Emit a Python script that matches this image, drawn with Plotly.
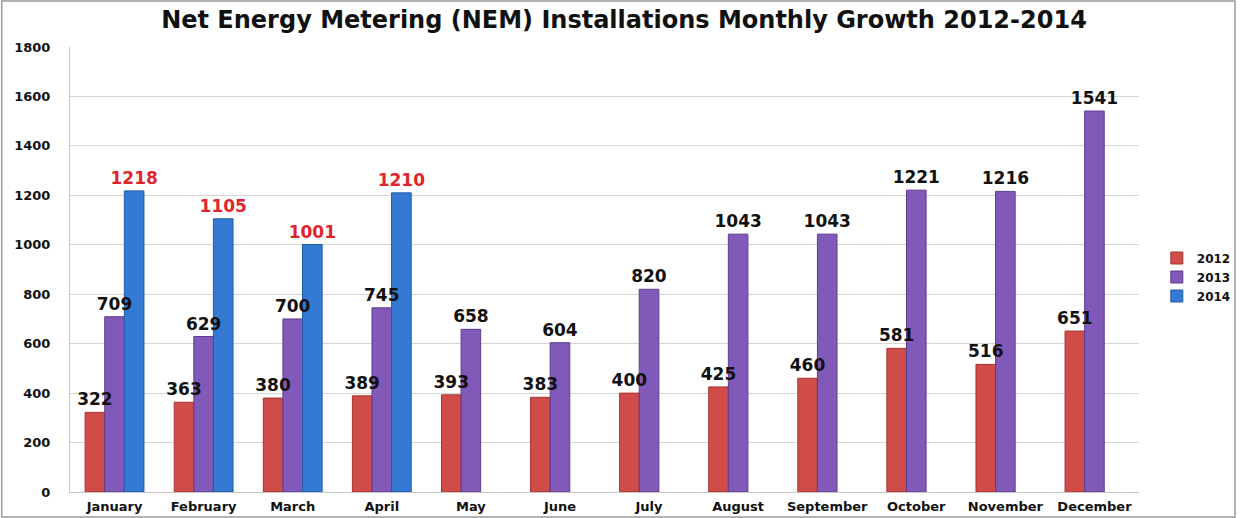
import plotly.graph_objects as go

months = ["January", "February", "March", "April", "May", "June", "July",
          "August", "September", "October", "November", "December"]
v2012 = [322, 363, 380, 389, 393, 383, 400, 425, 460, 581, 516, 651]
v2013 = [709, 629, 700, 745, 658, 604, 820, 1043, 1043, 1221, 1216, 1541]
v2014 = [1218, 1105, 1001, 1210, None, None, None, None, None, None, None, None]
y_ticks = [0, 200, 400, 600, 800, 1000, 1200, 1400, 1600, 1800]

W, H = 1248, 518
L, R, T, B = 70, 98, 47, 26
PW, PH = W - L - R, H - T - B

series = [
    ("2012", v2012, "#CF4C48", "#A8322F", "#111111", "g1"),
    ("2013", v2013, "#8159B8", "#5E3C8E", "#111111", "g2"),
    ("2014", v2014, "#3479D2", "#1F5AA8", "#E0242C", "g3"),
]

fig = go.Figure()
# visible bars
for name, vals, fill, edge, tcol, grp in series:
    fig.add_trace(go.Bar(name=name, x=months, y=vals, offsetgroup=grp,
                         marker=dict(color=fill, line=dict(color=edge, width=1)),
                         hoverinfo="x+y"))
# label layers drawn on top of all bars
for name, vals, fill, edge, tcol, grp in series:
    fig.add_trace(go.Bar(name=name + " labels", x=months, y=vals, offsetgroup=grp,
                         marker=dict(color="rgba(0,0,0,0)", line=dict(width=0)),
                         text=[("" if v is None else str(v)) for v in vals],
                         textposition="outside", constraintext="none", cliponaxis=False,
                         textfont=dict(family="DejaVu Sans", size=17, color=tcol, weight="bold"),
                         showlegend=False, hoverinfo="skip"))

fig.update_layout(
    width=W, height=H,
    margin=dict(l=L, r=R, t=T, b=B),
    paper_bgcolor="white", plot_bgcolor="white",
    barmode="group", bargap=0.34, bargroupgap=0.0,
    title=dict(text="<b>Net Energy Metering (NEM) Installations Monthly Growth 2012-2014</b>",
               x=0.5, xanchor="center", y=1 - 20 / H, yanchor="middle",
               font=dict(family="DejaVu Sans", size=24, color="#111111")),
    font=dict(family="DejaVu Sans", color="#111111"),
    legend=dict(x=(1168 - L) / PW, xanchor="left", y=(492 - 277) / PH, yanchor="middle",
                font=dict(family="DejaVu Sans", size=12, color="#111111", weight="bold"),
                itemwidth=30, tracegroupgap=2, bgcolor="rgba(0,0,0,0)"),
    showlegend=True,
)
fig.update_xaxes(showgrid=False, showline=True, linecolor="#C8C8C8", linewidth=1,
                 tickfont=dict(family="DejaVu Sans", size=13, color="#111111", weight="bold"),
                 ticks="", ticklabelstandoff=2, automargin=False)
fig.update_yaxes(range=[0, 1800], tickvals=y_ticks, showgrid=True, gridcolor="#D6D6D6",
                 showline=True, linecolor="#C8C8C8", linewidth=1, zeroline=False,
                 tickfont=dict(family="DejaVu Sans", size=13, color="#111111", weight="bold"),
                 ticks="", ticklabelstandoff=16, automargin=False)

fig.add_shape(type="rect", xref="paper", yref="paper",
              x0=(-L + 1) / PW, x1=(W - L - 1) / PW, y0=(-B + 1) / PH, y1=(H - B - 1) / PH,
              line=dict(color="#9A9A9A", width=1.5), fillcolor="rgba(0,0,0,0)", layer="below")

fig.write_html("out.html", config={"displayModeBar": False},
               post_script="document.body.style.margin='0';document.body.style.overflow='hidden';")
